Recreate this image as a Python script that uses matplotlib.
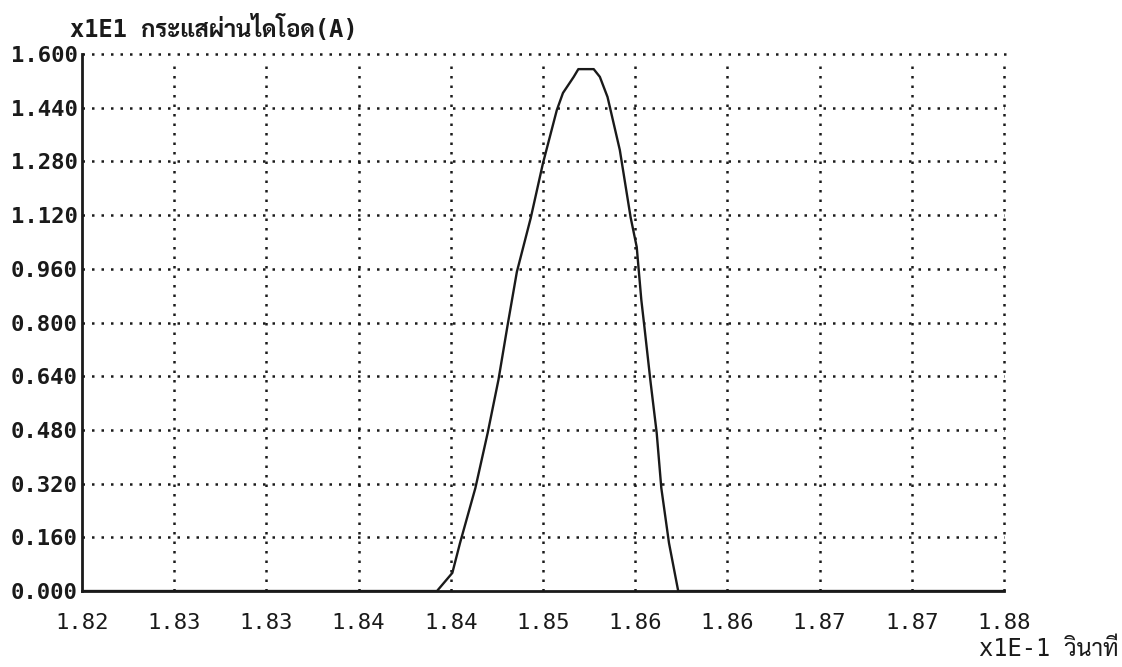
import matplotlib
matplotlib.use("Agg")
import matplotlib.pyplot as plt

# Diode current waveform (time in units of 1E-1 s, current in units of 1E1 A)
time_vals = [1.8200, 1.8431, 1.8441, 1.8446, 1.8456, 1.8464, 1.8471, 1.8477,
             1.8483, 1.8492, 1.8500, 1.8509, 1.8513, 1.8520, 1.8523, 1.8533,
             1.8537, 1.8542, 1.8550, 1.8557, 1.8561, 1.8564, 1.8566, 1.8570,
             1.8574, 1.8577, 1.8582, 1.8588, 1.8800]
current_vals = [0.000, 0.000, 0.054, 0.143, 0.307, 0.471, 0.629, 0.793,
                0.951, 1.111, 1.275, 1.433, 1.484, 1.532, 1.555, 1.555,
                1.532, 1.472, 1.314, 1.114, 1.025, 0.867, 0.787, 0.623,
                0.471, 0.307, 0.143, 0.000, 0.000]

x_ticks = [1.820, 1.826, 1.832, 1.838, 1.844, 1.850, 1.856, 1.862, 1.868, 1.874, 1.880]
x_tick_labels = ["1.82", "1.83", "1.83", "1.84", "1.84", "1.85",
                 "1.86", "1.86", "1.87", "1.87", "1.88"]
y_ticks = [0.000, 0.160, 0.320, 0.480, 0.640, 0.800, 0.960, 1.120, 1.280, 1.440, 1.600]
y_tick_labels = ["0.000", "0.160", "0.320", "0.480", "0.640", "0.800",
                 "0.960", "1.120", "1.280", "1.440", "1.600"]

y_title = "x1E1 กระแสผ่านไดโอด(A)"
x_title = "x1E-1 วินาที"

mono = ["DejaVu Sans Mono", "Sarabun", "Bai Jamjuree"]
ink = "#1a1a1a"

fig = plt.figure(figsize=(11.22, 6.67), dpi=100)
fig.patch.set_facecolor("white")
ax = fig.add_axes([0.0731, 0.1139, 0.8217, 0.8051])
ax.set_xlim(x_ticks[0], x_ticks[-1])
ax.set_ylim(y_ticks[0], y_ticks[-1])

# dotted grid, including the top and right borders
dot = dict(color=ink, linewidth=1.8, linestyle=(0, (1.0, 2.8)), clip_on=False, zorder=1)
for yv in y_ticks[1:]:
    ax.axhline(yv, xmin=0, xmax=1.009 if yv == y_ticks[-1] else 1.0, **dot)
for xv in x_ticks[1:]:
    ax.axvline(xv, ymin=0, ymax=0.985, **dot)

ax.plot(time_vals, current_vals, color=ink, linewidth=1.7, zorder=3,
        solid_joinstyle="round")

for side in ("top", "right"):
    ax.spines[side].set_visible(False)
for side in ("left", "bottom"):
    ax.spines[side].set_linewidth(2.0)
    ax.spines[side].set_color(ink)

ax.set_xticks(x_ticks)
ax.set_xticklabels(x_tick_labels)
ax.set_yticks(y_ticks)
ax.set_yticklabels(y_tick_labels)
ax.tick_params(axis="both", length=0, colors=ink)
ax.tick_params(axis="y", pad=3)
ax.tick_params(axis="x", pad=16)
for lab in ax.get_yticklabels():
    lab.set_family(mono)
    lab.set_fontsize(16)
    lab.set_fontweight("bold")
for lab in ax.get_xticklabels():
    lab.set_family(mono)
    lab.set_fontsize(16)

fig.text(0.0625, 0.958, y_title, family=mono, fontsize=17, fontweight="bold",
         color=ink, ha="left", va="center")
fig.text(0.997, 0.027, x_title, family=mono, fontsize=17, color=ink,
         ha="right", va="center")

fig.savefig("out.png", dpi=100, facecolor="white")
